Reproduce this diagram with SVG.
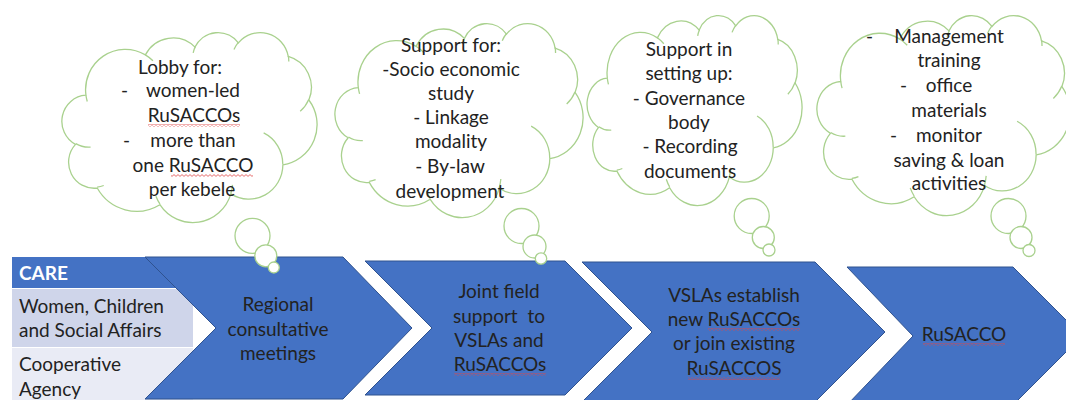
<svg xmlns="http://www.w3.org/2000/svg" xmlns:xlink="http://www.w3.org/1999/xlink" width="1066" height="400" viewBox="0 0 1066 400">
  <style>
    .chev { fill: #4472C4; stroke: #2F528F; stroke-width: 1; }
    .cloud { fill: #FFFFFF; stroke: #A9D18E; stroke-width: 1.3; vector-effect: non-scaling-stroke; }
    .crease { fill: none; stroke: #A9D18E; stroke-width: 1.3; vector-effect: non-scaling-stroke; }
    .bubble { fill: #FFFFFF; stroke: #A9D18E; stroke-width: 1.3; }
    .t { font-family: Lato, "Open Sans", "Liberation Sans", sans-serif; font-size: 19px; fill: #222222; }
    .c { text-anchor: middle; }
    .hdr { font-family: Lato, "Open Sans", "Liberation Sans", sans-serif; font-size: 19px; font-weight: bold; fill: #FFFFFF; }
    .sq { fill: url(#squiggle); }
  </style>
  <defs>
    <!-- red wavy spell-check underline -->
    <pattern id="squiggle" width="4" height="3" patternUnits="userSpaceOnUse">
      <path d="M0 2.4 L2 0.6 L4 2.4" fill="none" stroke="#E04848" stroke-width="0.8"/>
    </pattern>
    <!-- cloud outline in a 100 x 100 box, with the inner crease arcs -->
    <g id="cloudShape">
      <path class="cloud" d="M9.03 33.26 A15.63 21.27 0 0 1 32.42 12.04 A12.34 16.82 0 0 1 51.97 7.94 A10.10 13.76 0 0 1 69.04 5.74 A11.24 15.27 0 0 1 88.69 12.89 A12.34 16.84 0 0 1 96.79 35.79 A15.68 21.34 0 0 1 86.57 69.91 A13.39 18.21 0 0 1 66.09 85.21 A15.63 21.33 0 0 1 38.15 90.89 A17.87 24.41 0 0 1 13.48 82.13 A10.09 13.70 0 0 1 4.92 59.17 A10.06 13.76 0 0 1 9.03 33.26 Z"/>
      <path class="crease" d="M10.86 60.59 A10.06 13.76 0 0 1 5.03 58.77 M16.04 80.78 A10.09 13.70 0 0 1 13.46 81.67 M38.14 90.49 A15.63 21.33 0 0 1 36.59 86.45 M66.73 80.44 A15.63 21.33 0 0 1 66.10 84.88 M79.00 53.13 A13.39 18.21 0 0 1 86.53 69.65 M96.75 35.54 A12.34 16.84 0 0 1 93.39 41.74 M88.71 12.56 A11.24 15.27 0 0 1 88.89 15.48 M67.31 9.15 A11.24 15.27 0 0 1 69.03 5.42 M51.25 10.93 A10.10 13.76 0 0 1 52.09 7.71 M32.41 12.02 A15.63 21.27 0 0 1 35.42 15.14 M9.55 36.55 A15.63 21.27 0 0 1 9.03 33.27"/>
    </g>
  </defs>

  <rect width="1066" height="400" fill="#FFFFFF"/>

  <!-- partner table -->
  <g id="partners">
    <rect x="12" y="257" width="181" height="31" fill="#4472C4"/>
    <rect x="12" y="289" width="181" height="58" fill="#CFD5EA"/>
    <rect x="12" y="348" width="181" height="52" fill="#E9EBF5"/>
    <text class="hdr" x="19" y="280">CARE</text>
    <text class="t" x="19" y="313">Women, Children</text>
    <text class="t" x="19" y="337">and Social Affairs</text>
    <text class="t" x="19" y="371">Cooperative</text>
    <text class="t" x="19" y="396">Agency</text>
  </g>

  <!-- process chevrons -->
  <g id="step1">
    <polygon class="chev" points="145,257 343,257 412,328 343,399 145,399 216,328"/>
    <text class="t c" x="278" y="311">Regional</text>
    <text class="t c" x="278" y="336">consultative</text>
    <text class="t c" x="278" y="360">meetings</text>
  </g>
  <g id="step2">
    <polygon class="chev" points="365,261 565,261 632,328 565,395 365,395 432,328"/>
    <text class="t c" x="499" y="298">Joint field</text>
    <text class="t c" x="499" y="323" xml:space="preserve">support  to</text>
    <text class="t c" x="499" y="347">VSLAs and</text>
    <text class="t c" x="500" y="371">RuSACCOs</text>
    <rect class="sq" x="454" y="373" width="92" height="3"/>
  </g>
  <g id="step3">
    <polygon class="chev" points="582,262 815,262 885,332 815,402 582,402 652,332"/>
    <text class="t c" x="734" y="302">VSLAs establish</text>
    <text class="t c" x="734" y="326">new RuSACCOs</text>
    <rect class="sq" x="708" y="328" width="92" height="3"/>
    <text class="t c" x="734" y="350">or join existing</text>
    <text class="t c" x="734" y="375">RuSACCOS</text>
    <rect class="sq" x="688" y="377" width="92" height="3"/>
  </g>
  <g id="step4">
    <polygon class="chev" points="847,267 1013,267 1082,336 1013,405 847,405 913,336"/>
    <text class="t c" x="964" y="341">RuSACCO</text>
    <rect class="sq" x="923" y="343" width="82" height="3"/>
  </g>

  <!-- thought bubbles -->
  <g id="cloud1">
    <use xlink:href="#cloudShape" href="#cloudShape" transform="translate(63,32) scale(2.54,1.90)"/>
    <circle class="bubble" cx="252.5" cy="235.8" r="17.5"/>
    <circle class="bubble" cx="265.8" cy="255.8" r="11"/>
    <circle class="bubble" cx="273.8" cy="267.5" r="5.5"/>
    <text class="t c" x="180" y="74">Lobby for:</text>
    <text class="t" x="121" y="97">-</text>
    <text class="t c" x="193" y="97">women-led</text>
    <text class="t c" x="194" y="122">RuSACCOs</text>
    <rect class="sq" x="148" y="124" width="92" height="3"/>
    <text class="t" x="123" y="147">-</text>
    <text class="t c" x="193" y="147">more than</text>
    <text class="t c" x="193" y="172">one RuSACCO</text>
    <rect class="sq" x="171" y="174" width="82" height="3"/>
    <text class="t c" x="192" y="196">per kebele</text>
  </g>
  <g id="cloud2">
    <use xlink:href="#cloudShape" href="#cloudShape" transform="translate(336,23) scale(2.47,1.94)"/>
    <circle class="bubble" cx="521.5" cy="226" r="17.5"/>
    <circle class="bubble" cx="534.5" cy="246.5" r="11.5"/>
    <circle class="bubble" cx="541" cy="258.5" r="5.7"/>
    <text class="t c" x="451" y="52">Support for:</text>
    <text class="t c" x="451" y="76">-Socio economic</text>
    <text class="t c" x="451" y="100">study</text>
    <text class="t c" x="451" y="124">- Linkage</text>
    <text class="t c" x="451" y="148">modality</text>
    <text class="t c" x="450" y="173">- By-law</text>
    <text class="t c" x="450" y="198">development</text>
  </g>
  <g id="cloud3">
    <use xlink:href="#cloudShape" href="#cloudShape" transform="translate(588,15) scale(2.14,1.90)"/>
    <circle class="bubble" cx="751.7" cy="216" r="17.5"/>
    <circle class="bubble" cx="763.3" cy="237.5" r="11"/>
    <circle class="bubble" cx="769" cy="250" r="6"/>
    <text class="t c" x="689" y="56">Support in</text>
    <text class="t c" x="689" y="80">setting up:</text>
    <text class="t c" x="689" y="105">- Governance</text>
    <text class="t c" x="689" y="129">body</text>
    <text class="t c" x="690" y="153">- Recording</text>
    <text class="t c" x="690" y="178">documents</text>
  </g>
  <g id="cloud4">
    <use xlink:href="#cloudShape" href="#cloudShape" transform="translate(818,15) scale(2.52,2.00)"/>
    <circle class="bubble" cx="1008.5" cy="216" r="17.5"/>
    <circle class="bubble" cx="1021" cy="237.5" r="11"/>
    <circle class="bubble" cx="1029" cy="250.5" r="6"/>
    <text class="t" x="866" y="43">-</text>
    <text class="t c" x="949" y="43">Management</text>
    <text class="t c" x="949" y="67">training</text>
    <text class="t" x="900" y="92">-</text>
    <text class="t c" x="949" y="92">office</text>
    <text class="t c" x="949" y="117">materials</text>
    <text class="t" x="890" y="142">-</text>
    <text class="t c" x="949" y="142">monitor</text>
    <text class="t c" x="949" y="167">saving &amp; loan</text>
    <text class="t c" x="949" y="190">activities</text>
  </g>
</svg>
